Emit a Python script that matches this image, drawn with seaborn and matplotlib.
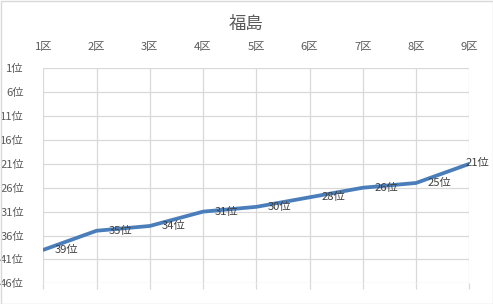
import matplotlib
matplotlib.use("Agg")
import matplotlib.pyplot as plt
import seaborn as sns
import pandas as pd
from matplotlib.patches import Rectangle

# Data
districts = ["1区", "2区", "3区", "4区", "5区", "6区", "7区", "8区", "9区"]
ranks = [39, 35, 34, 31, 30, 28, 26, 25, 21]
rank_ticks = [1, 6, 11, 16, 21, 26, 31, 36, 41, 46]
title = "福島"

sns.set_theme(style="white")
plt.rcParams['font.family'] = ['Noto Sans CJK JP', 'DejaVu Sans']

df = pd.DataFrame({"区": districts, "順位": ranks})

fig = plt.figure(figsize=(4.93, 3.04), dpi=100)
ax = fig.add_axes([43.3 / 493, 1 - 283.3 / 304, (469.3 - 43.3) / 493, (283.3 - 68.3) / 304])

sns.lineplot(data=df, x="区", y="順位", ax=ax, color="#4A7EBB", linewidth=2.7,
             sort=False, solid_capstyle="round", solid_joinstyle="round")

ax.set_xlim(0, len(districts) - 1)
ax.set_ylim(rank_ticks[-1], rank_ticks[0])
ax.set_yticks(rank_ticks)
ax.set_yticklabels([f"{v}位" for v in rank_ticks])
ax.set_xticks(range(len(districts)))
ax.set_xticklabels(districts)
ax.set_xlabel("")
ax.set_ylabel("")

grid_c = "#D9D9D9"
ax.grid(True, color=grid_c, linewidth=0.9)
for s in ax.spines.values():
    s.set_visible(False)

fs = 8.1
ax.tick_params(axis="x", top=False, labeltop=True, bottom=True, labelbottom=False,
               length=4, width=0.9, color=grid_c, labelsize=fs, labelcolor="#595959", pad=8)
ax.tick_params(axis="y", left=False, labelsize=fs, labelcolor="#595959", pad=8)

n = len(ranks)
for i, r in enumerate(ranks):
    if i == n - 1:
        ax.annotate(f"{r}位", (i, r), xytext=(-3, 0.5), textcoords="offset points",
                    ha="left", va="center", fontsize=fs, color="#404040", annotation_clip=False)
    else:
        ax.annotate(f"{r}位", (i, r), xytext=(8.5, 0), textcoords="offset points",
                    ha="left", va="center", fontsize=fs, color="#404040", annotation_clip=False)

fig.text(0.499, 1 - 24 / 304, title, ha="center", va="center", fontsize=12.5, color="#595959")

fig.patches.append(Rectangle((0.5 / 493, 0.5 / 304), 1 - 1 / 493, 1 - 1 / 304,
                             transform=fig.transFigure, fill=False,
                             edgecolor="#D9D9D9", linewidth=1))

fig.savefig("out.png", dpi=100)
